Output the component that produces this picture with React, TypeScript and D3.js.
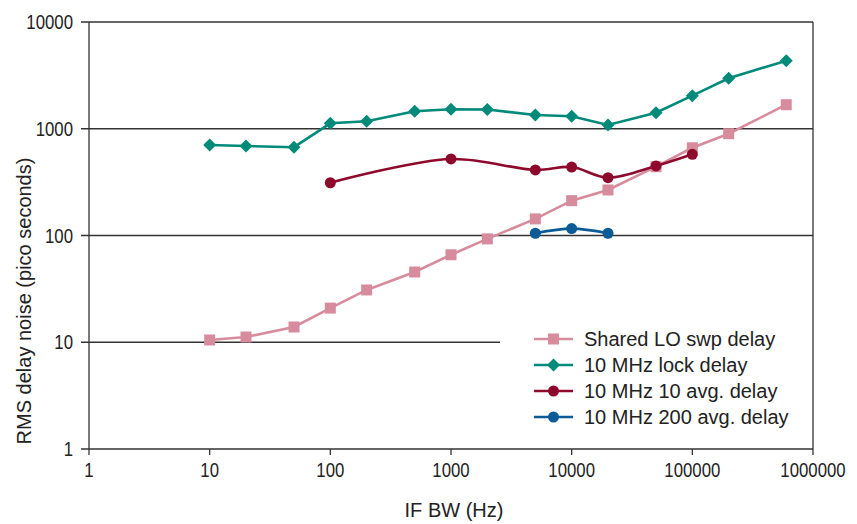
import React from 'react';
import * as d3 from 'd3';

// IF bandwidths (Hz) and RMS delay noise (ps)
const loBw = [10, 20, 50, 100, 200, 500, 1000, 2000, 5000, 10000, 20000, 50000, 100000, 200000, 600000];
const loDelay = [10.5, 11.2, 13.9, 20.9, 30.9, 45.5, 66, 93, 143, 212, 267, 441, 664, 899, 1680];

const lockBw = [10, 20, 50, 100, 200, 500, 1000, 2000, 5000, 10000, 20000, 50000, 100000, 200000, 600000];
const lockDelay = [705, 689, 672, 1125, 1175, 1457, 1522, 1515, 1345, 1309, 1084, 1414, 2040, 2967, 4345];

const avg10Bw = [100, 1000, 5000, 10000, 20000, 50000, 100000];
const avg10Delay = [312, 521, 411, 438, 348, 448, 576];

const avg200Bw = [5000, 10000, 20000];
const avg200Delay = [105, 116, 105];

const xTicks = [1, 10, 100, 1000, 10000, 100000, 1000000];
const yTicks = [1, 10, 100, 1000, 10000];

const FONT = '"Liberation Sans Narrow", "Liberation Sans", Arial, sans-serif';

const series = [
  { name: 'Shared LO swp delay', x: loBw, y: loDelay, color: '#d68c9c', marker: 'square', smooth: false },
  { name: '10 MHz lock delay', x: lockBw, y: lockDelay, color: '#008a7a', marker: 'diamond', smooth: false },
  { name: '10 MHz 10 avg. delay', x: avg10Bw, y: avg10Delay, color: '#8e0a2c', marker: 'circle', smooth: true },
  { name: '10 MHz 200 avg. delay', x: avg200Bw, y: avg200Delay, color: '#0c5a96', marker: 'circle', smooth: true },
];

const Marker = ({ type, cx, cy, color }) => {
  if (type === 'square') return <rect x={cx - 5.5} y={cy - 5.5} width={11} height={11} fill={color} />;
  if (type === 'diamond') {
    const r = 6.5;
    return <path d={`M${cx},${cy - r}L${cx + r},${cy}L${cx},${cy + r}L${cx - r},${cy}Z`} fill={color} />;
  }
  return <circle cx={cx} cy={cy} r={5.5} fill={color} />;
};

// digits in the original are a condensed face; squeeze them horizontally
const squeeze = 0.84;

export default function App() {
  const width = 857;
  const height = 524;
  const left = 89, right = 813, top = 22, bottom = 449;

  const x = d3.scaleLog().domain([1, 1000000]).range([left, right]);
  const y = d3.scaleLog().domain([1, 10000]).range([bottom, top]);

  const legendX = 534;
  const legendY = 339;
  const legendStep = 26;

  return (
    <svg width={width} height={height} style={{ position: 'absolute', left: 0, top: 0, background: '#fff' }}>
      {/* horizontal gridlines */}
      {yTicks.map((t) => (
        <line
          key={t}
          x1={left - 8}
          x2={t === 10 ? 500 : right}
          y1={y(t)}
          y2={y(t)}
          stroke="#333"
          strokeWidth={1.3}
        />
      ))}
      {/* frame */}
      <line x1={left} x2={left} y1={top} y2={bottom} stroke="#333" strokeWidth={1.3} />
      <line x1={right} x2={right} y1={top} y2={bottom} stroke="#333" strokeWidth={1.3} />
      {xTicks.map((t) => (
        <line key={t} x1={x(t)} x2={x(t)} y1={bottom} y2={bottom + 6} stroke="#333" strokeWidth={1.3} />
      ))}

      {/* tick labels */}
      {yTicks.map((t) => (
        <text
          key={t}
          transform={`translate(${left - 16}, ${y(t) + 7}) scale(${squeeze}, 1)`}
          textAnchor="end"
          fontFamily={FONT}
          fontSize={20}
          fill="#222"
        >
          {t}
        </text>
      ))}
      {xTicks.map((t) => (
        <text
          key={t}
          transform={`translate(${x(t)}, ${bottom + 28}) scale(${squeeze}, 1)`}
          textAnchor="middle"
          fontFamily={FONT}
          fontSize={20}
          fill="#222"
        >
          {t}
        </text>
      ))}

      <text x={454} y={517} textAnchor="middle" fontFamily={FONT} fontSize={20} fill="#222">
        IF BW (Hz)
      </text>
      <text
        transform={`translate(31, 301) rotate(-90)`}
        textAnchor="middle"
        fontFamily={FONT}
        fontSize={20}
        fill="#222"
      >
        RMS delay noise (pico seconds)
      </text>

      {/* series */}
      {series.map((s) => {
        const pts = s.x.map((v, i) => [x(v), y(s.y[i])]);
        const line = d3.line().curve(s.smooth ? d3.curveCatmullRom.alpha(0.5) : d3.curveLinear);
        return (
          <g key={s.name}>
            <path d={line(pts)} fill="none" stroke={s.color} strokeWidth={2.6} />
            {pts.map((p, i) => (
              <Marker key={i} type={s.marker} cx={p[0]} cy={p[1]} color={s.color} />
            ))}
          </g>
        );
      })}

      {/* legend */}
      {series.map((s, i) => {
        const ly = legendY + i * legendStep;
        return (
          <g key={s.name}>
            <line x1={legendX} x2={legendX + 39} y1={ly} y2={ly} stroke={s.color} strokeWidth={2.6} />
            <Marker type={s.marker} cx={legendX + 19.5} cy={ly} color={s.color} />
            <text x={legendX + 50} y={ly + 7} fontFamily={FONT} fontSize={20} fill="#222">
              {s.name}
            </text>
          </g>
        );
      })}
    </svg>
  );
}
